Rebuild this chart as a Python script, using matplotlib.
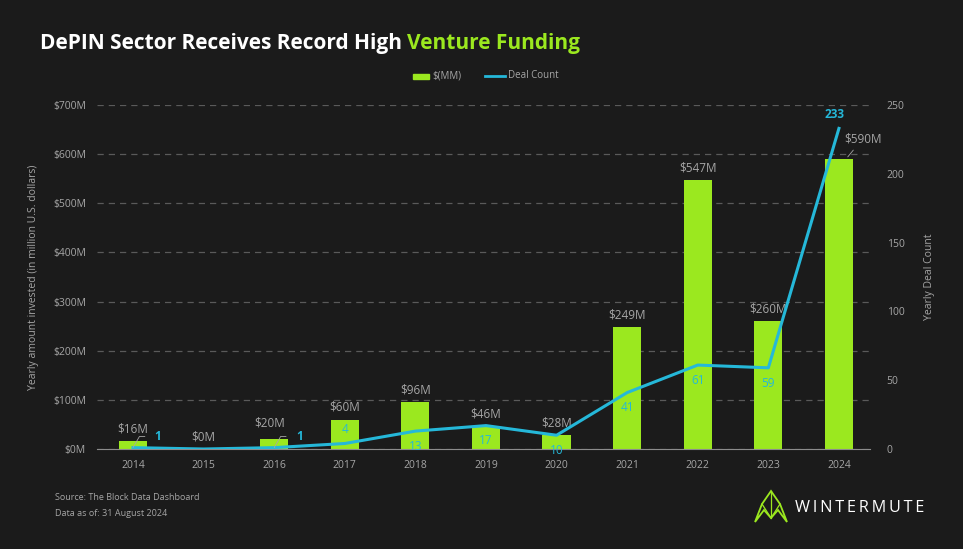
"""DepIN venture funding: yearly $ invested (bars) and deal count (line)."""
import matplotlib.pyplot as plt
from matplotlib.patches import Polygon

years = ["2014", "2015", "2016", "2017", "2018", "2019", "2020", "2021", "2022", "2023", "2024"]
funding_mm = [16, 0, 20, 60, 96, 46, 28, 249, 547, 260, 590]
deal_count = [1, 0, 1, 4, 13, 17, 10, 41, 61, 59, 233]
money_ticks = [0, 100, 200, 300, 400, 500, 600, 700]
count_ticks = [0, 50, 100, 150, 200, 250]

BG = "#1b1b1b"
GREEN = "#9be81f"
CYAN = "#25b8d9"
GREY = "#a6a6a6"
GRID = "#5a5a5a"

plt.rcParams["font.family"] = ["Open Sans", "DejaVu Sans"]

W, H = 963, 549
fig = plt.figure(figsize=(W / 100, H / 100), dpi=100, facecolor=BG)


def px(x0, y0, x1, y1):
    return [x0 / W, 1 - y1 / H, (x1 - x0) / W, (y1 - y0) / H]


ax = fig.add_axes(px(97, 105, 870, 449))
ax.set_facecolor(BG)
x = list(range(len(years)))
ax.bar(x, funding_mm, width=0.4, color=GREEN, zorder=2)
ax.set_ylim(0, 700)
ax.set_xlim(-0.51, 10.44)
ax.set_yticks(money_ticks)
ax.set_yticklabels([f"${v}M" for v in money_ticks])
ax.set_xticks(x)
ax.set_xticklabels(years)
ax.yaxis.grid(True, color=GRID, ls=(0, (5, 4)), lw=0.9, zorder=0)
for s in ["top", "right", "left"]:
    ax.spines[s].set_visible(False)
ax.spines["bottom"].set_color("#8c8c8c")
ax.tick_params(colors=GREY, labelsize=7.5, length=0, pad=8)
ax.set_ylabel("Yearly amount invested (in million U.S. dollars)", color=GREY,
              fontsize=7.5, labelpad=10)

ax2 = ax.twinx()
ax2.plot(x, deal_count, color=CYAN, lw=2.2, zorder=3)
ax2.set_ylim(0, 250)
ax2.set_yticks(count_ticks)
for s in ax2.spines.values():
    s.set_visible(False)
ax2.tick_params(colors=GREY, labelsize=7.5, length=0, pad=12)
ax2.set_ylabel("Yearly Deal Count", color=GREY, fontsize=7.5, labelpad=14)

# bar value labels
for i, v in enumerate(funding_mm):
    if i == 10:
        ax.annotate(f"${v}M", (i + 0.1, v), xytext=(12, 10), textcoords="offset points",
                    color=GREY, fontsize=8.5, ha="center", va="bottom",
                    arrowprops=dict(arrowstyle="-", color=GREY, lw=0.6))
    elif i == 2:
        ax.annotate(f"${v}M", (i, v), xytext=(-3, 7), textcoords="offset points",
                    color=GREY, fontsize=8.5, ha="center", va="bottom")
    else:
        ax.annotate(f"${v}M", (i, v), xytext=(0, 4), textcoords="offset points",
                    color=GREY, fontsize=8.5, ha="center", va="bottom")

# deal count labels
for i, c in enumerate(deal_count):
    if i == 1:
        continue
    if i in (0, 2):
        ax2.annotate(f"{c}", (i, c), xytext=(18, 8), textcoords="offset points",
                     color=CYAN, fontsize=8.5, fontweight="bold", ha="center", va="center",
                     arrowprops=dict(arrowstyle="-", color=GREY, lw=0.6,
                                     connectionstyle="angle,angleA=0,angleB=60,rad=0",
                                     shrinkA=5, shrinkB=0))
    elif i == 10:
        ax2.annotate(f"{c}", (i, c), xytext=(-3, 10), textcoords="offset points",
                     color=CYAN, fontsize=8.5, fontweight="bold", ha="center", va="center")
    elif i == 3:
        ax2.annotate(f"{c}", (i, c), xytext=(0, 10), textcoords="offset points",
                     color=CYAN, fontsize=8.5, ha="center", va="center")
    else:
        ax2.annotate(f"{c}", (i, c), xytext=(0, -11), textcoords="offset points",
                     color=CYAN, fontsize=8.5, ha="center", va="center")

# title
fig.text(40 / W, 1 - 43 / H, "DePIN Sector Receives Record High ", color="white",
         fontsize=15, fontweight="bold", va="center", ha="left")
t = fig.texts[-1]
fig.canvas.draw()
bb = t.get_window_extent()
fig.text(bb.x1 / W, 1 - 43 / H, "Venture Funding", color=GREEN,
         fontsize=15, fontweight="bold", va="center", ha="left")

# legend
fig.patches.append(plt.Rectangle((413 / W, 1 - 79 / H), 16 / W, 5 / H, color=GREEN,
                                 transform=fig.transFigure, figure=fig))
fig.text(432 / W, 1 - 76 / H, "$(MM)", color=GREY, fontsize=7, va="center")
fig.lines.append(plt.Line2D([485 / W, 505 / W], [1 - 76 / H] * 2, color=CYAN, lw=2,
                            transform=fig.transFigure, figure=fig))
fig.text(508 / W, 1 - 76 / H, "Deal Count", color=GREY, fontsize=7, va="center")

# footer
fig.text(55 / W, 1 - 498 / H, "Source: The Block Data Dashboard", color=GREY,
         fontsize=6.5, va="center")
fig.text(55 / W, 1 - 514 / H, "Data as of: 31 August 2024", color=GREY,
         fontsize=6.5, va="center")

# logo
lx, ly = 771, 508
pts_outer = [(-16, -14), (-9, 4), (0, 17), (9, 4), (16, -14), (7, -2), (0, -10), (-7, -2)]
shape = [((lx + a) / W, 1 - (ly - b) / H) for a, b in pts_outer]
fig.patches.append(Polygon(shape, closed=True, fill=False, ec=GREEN, lw=1.3,
                           transform=fig.transFigure, figure=fig))
for seg in [[(-9, 4), (0, -10), (9, 4)], [(0, 17), (0, -10)]]:
    fig.lines.append(plt.Line2D([(lx + a) / W for a, b in seg],
                                [1 - (ly - b) / H for a, b in seg],
                                color=GREEN, lw=0.9, transform=fig.transFigure, figure=fig))
fig.text(795 / W, 1 - 508 / H, "W I N T E R M U T E".replace(" ", "\u2009"), color="white",
         fontsize=11.7, va="center", ha="left")

fig.savefig("out.png", dpi=100, facecolor=BG)
